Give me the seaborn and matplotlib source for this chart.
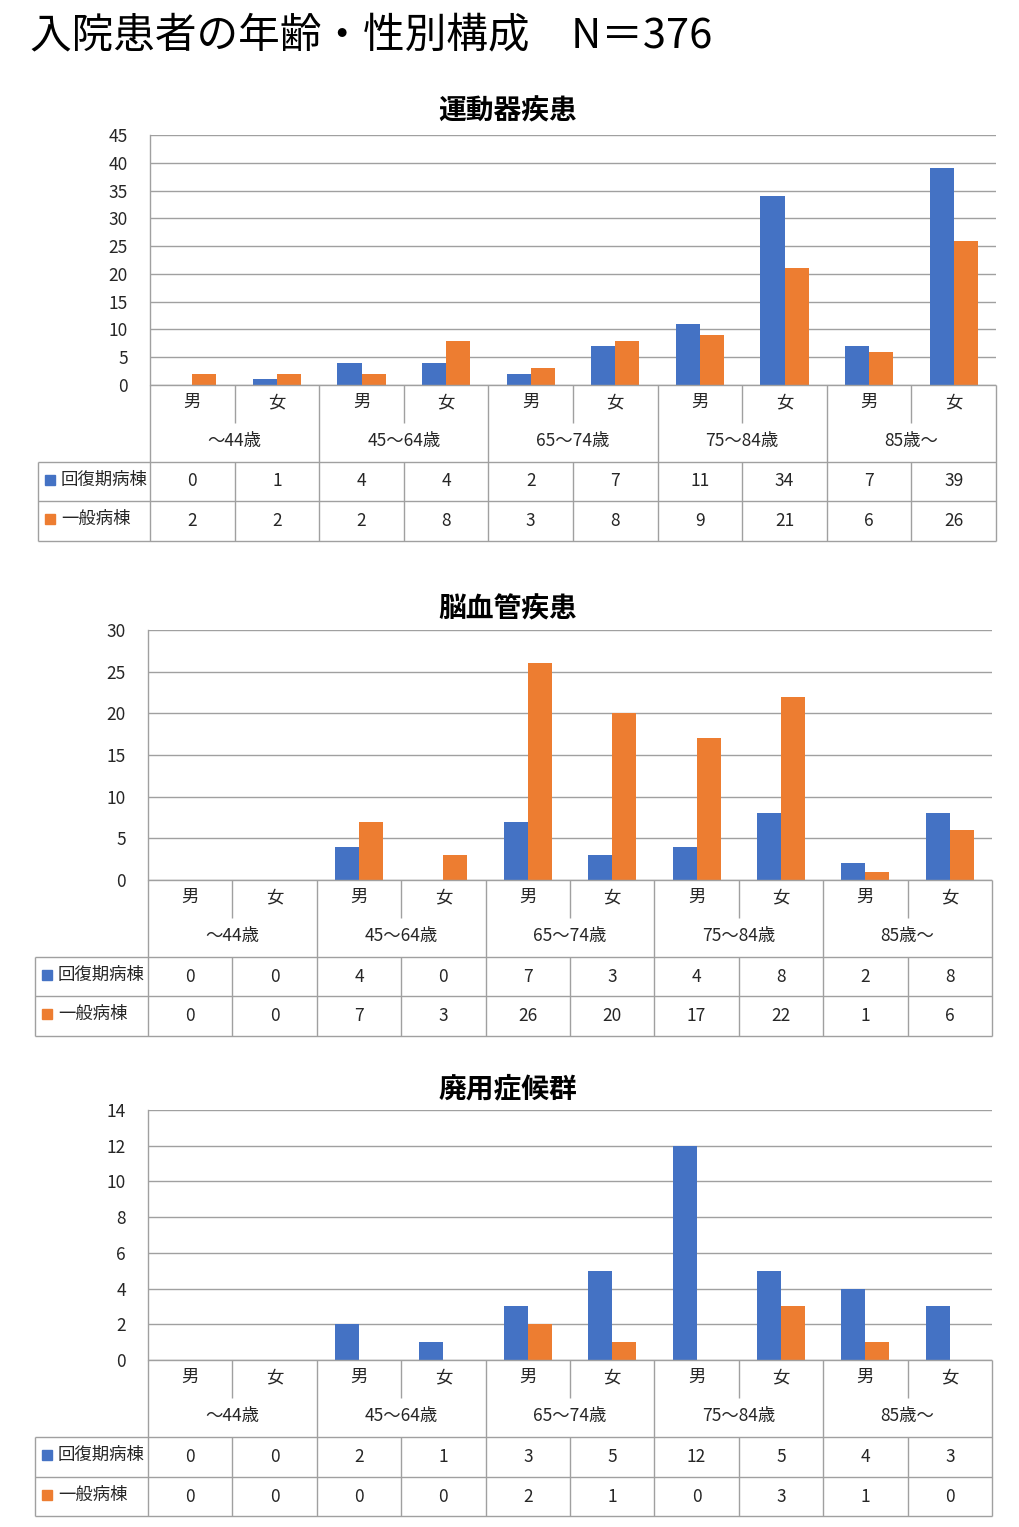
import pandas as pd
import matplotlib
matplotlib.use('Agg')
import matplotlib.pyplot as plt
import seaborn as sns

# ---- data ----
age_groups = ['～44歳', '45～64歳', '65～74歳', '75～84歳', '85歳～']
sexes = ['男', '女']
wards = ['回復期病棟', '一般病棟']
colors = ['#4472C4', '#ED7D31']

titles = ['運動器疾患', '脳血管疾患', '廃用症候群']

kaifuku_undou = [0, 1, 4, 4, 2, 7, 11, 34, 7, 39]
ippan_undou = [2, 2, 2, 8, 3, 8, 9, 21, 6, 26]

kaifuku_nou = [0, 0, 4, 0, 7, 3, 4, 8, 2, 8]
ippan_nou = [0, 0, 7, 3, 26, 20, 17, 22, 1, 6]

kaifuku_haiyou = [0, 0, 2, 1, 3, 5, 12, 5, 4, 3]
ippan_haiyou = [0, 0, 0, 0, 2, 1, 0, 3, 1, 0]

y_max = [45, 30, 14]
y_step = [5, 5, 2]

# ---- layout (pixels) ----
W, H = 1019, 1527
# (plot_left, plot_right, plot_top, plot_bottom, label_left, row1_top, row2_top, table_bottom, title_y)
panels = [
    (150, 996, 135, 385, 38, 462, 501, 541, 112),
    (148, 992, 630, 880, 35, 957, 996, 1036, 610),
    (148, 992, 1110, 1360, 35, 1437, 1477, 1516, 1089),
]

LINE = '#A0A0A0'
TXT = '#262626'
FS = 12.5

sns.set_theme(style='white')
plt.rcParams['font.family'] = ['Noto Sans CJK JP', 'DejaVu Sans']


def px_axes(fig, left, top, right, bottom):
    return fig.add_axes([left / W, 1 - bottom / H, (right - left) / W, (bottom - top) / H])


def draw_panel(fig, geom, title, kaifuku, ippan, ymax, ystep):
    pl, pr, pt, pb, ll, r1, r2, tb, ty = geom
    cats = [f'{a}{s}' for a in age_groups for s in sexes]
    df = pd.DataFrame({
        'cat': cats * 2,
        'count': kaifuku + ippan,
        'ward': [wards[0]] * len(cats) + [wards[1]] * len(cats),
    })

    ax = px_axes(fig, pl, pt, pr, pb)
    sns.barplot(data=df, x='cat', y='count', hue='ward', order=cats, hue_order=wards,
                palette=colors, width=0.57, saturation=1, legend=False, linewidth=0, ax=ax)
    ax.set_xlim(-0.5, len(cats) - 0.5)
    ax.set_ylim(0, ymax)
    ax.set_yticks(range(0, ymax + 1, ystep))
    ax.tick_params(axis='y', labelsize=FS, labelcolor=TXT, length=0, pad=16)
    ax.set_xticks([])
    ax.set_xlabel('')
    ax.set_ylabel('')
    ax.yaxis.grid(True, color=LINE, lw=1)
    ax.set_axisbelow(True)
    for s in ['top', 'right', 'bottom']:
        ax.spines[s].set_visible(False)
    ax.spines['left'].set_color(LINE)
    ax.spines['left'].set_linewidth(1)
    fig.text(508 / W, 1 - ty / H, title, ha='center', va='center',
             fontsize=20, fontweight='bold', color='#000000')

    # ---- data table ----
    tab = px_axes(fig, pl, pb, pr, tb)
    tab.set_xlim(-0.5, len(cats) - 0.5)
    tab.set_ylim(tb, pb)
    tab.axis('off')
    cw = (pr - pl) / len(cats)
    lx = -0.5 - (pl - ll) / cw
    kw = dict(color=LINE, lw=1, clip_on=False, solid_capstyle='butt')
    xr = len(cats) - 0.5
    tab.plot([-0.5, xr], [pb, pb], **kw)
    for y in [r1, r2, tb]:
        tab.plot([lx, xr], [y, y], **kw)
    tab.plot([lx, lx], [r1, tb], **kw)
    for i in range(len(age_groups) + 1):
        x = -0.5 + 2 * i
        tab.plot([x, x], [pb, tb], **kw)
    for i in range(len(age_groups)):
        x = 0.5 + 2 * i
        tab.plot([x, x], [pb, pb + 38], **kw)
        tab.plot([x, x], [r1, tb], **kw)

    for i, c in enumerate(cats):
        tab.text(i, pb + 17, sexes[i % 2], ha='center', va='center', fontsize=FS, color=TXT)
        tab.text(i, (r1 + r2) / 2, str(kaifuku[i]), ha='center', va='center', fontsize=FS, color=TXT)
        tab.text(i, (r2 + tb) / 2, str(ippan[i]), ha='center', va='center', fontsize=FS, color=TXT)
    for j, a in enumerate(age_groups):
        tab.text(2 * j + 0.5, pb + 56, a, ha='center', va='center', fontsize=FS, color=TXT)

    for k, (w, col) in enumerate(zip(wards, colors)):
        yc = (r1 + r2) / 2 if k == 0 else (r2 + tb) / 2
        yc -= 2
        tab.plot([lx + 12 / cw], [yc], marker='s', ms=7, color=col, clip_on=False, lw=0)
        tab.text(lx + 23 / cw, yc, w, ha='left', va='center', fontsize=FS, color=TXT)


def main():
    fig = plt.figure(figsize=(W / 100, H / 100), dpi=100)
    fig.text(30 / W, 1 - 36 / H, '入院患者の年齢・性別構成　N＝376', ha='left', va='center',
             fontsize=30, color='#000000')
    series = [(kaifuku_undou, ippan_undou), (kaifuku_nou, ippan_nou), (kaifuku_haiyou, ippan_haiyou)]
    for geom, title, (k, g), ym, st in zip(panels, titles, series, y_max, y_step):
        draw_panel(fig, geom, title, k, g, ym, st)
    fig.savefig('out.png', dpi=100, facecolor='white')


if __name__ == '__main__':
    main()
